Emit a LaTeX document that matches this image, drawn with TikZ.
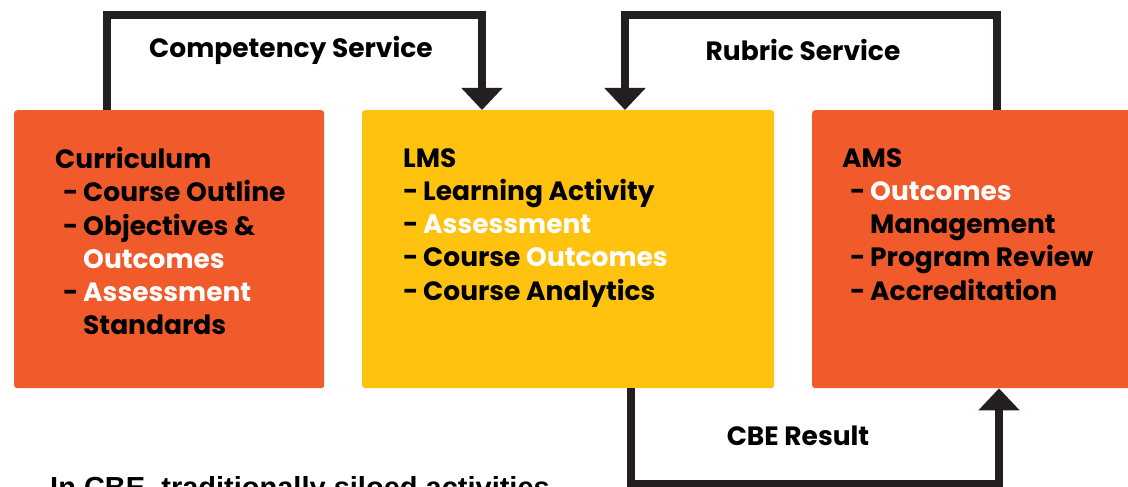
\documentclass[tikz,border=0pt]{standalone}
\usepackage{fontspec}
\setmainfont{Poppins}
\newfontfamily\arialb{Liberation Sans}
\usetikzlibrary{arrows.meta}
\definecolor{orng}{HTML}{F15A2B}
\definecolor{yel}{HTML}{FFC30F}
\definecolor{ink}{HTML}{231F20}
\newcommand\itm[1]{\hspace*{8pt}\makebox[20pt][l]{-}#1}
\newcommand\itmb[1]{\makebox[20pt][l]{-}#1}
\newcommand\cnt[1]{\hspace*{28pt}#1}
\newcommand\wh[1]{\textcolor{white}{#1}}
\begin{document}
\begin{tikzpicture}[x=1pt,y=-1pt,
  box/.style={rectangle, rounded corners=3pt, inner sep=0pt, anchor=north west, minimum height=278pt},
  boxtxt/.style={anchor=north west, inner sep=0pt, align=left, text=black,
    font=\fontsize{26.5}{33.3}\selectfont\bfseries},
  lbl/.style={inner sep=0pt, text=black, font=\fontsize{26.5}{30}\selectfont\bfseries},
  conn/.style={draw=ink, line width=8pt, line join=miter,
    -{Triangle[width=40pt,length=22pt]}}]
\useasboundingbox (0,0) rectangle (1128,487);
\fill[white] (0,0) rectangle (1128,487);
% boxes
\node[box, fill=orng, minimum width=310pt] (cur) at (14,110) {};
\node[box, fill=yel, minimum width=412pt] (lms) at (362,110) {};
\node[box, fill=orng, minimum width=330pt] (ams) at (812,110) {};
% box texts
\node[boxtxt] (curtxt) at (55,147) {Curriculum\\
\itm{Course Outline}\\
\itm{Objectives \&}\\
\cnt{\wh{Outcomes}}\\
\itm{\wh{Assessment}}\\
\cnt{Standards}};
\node[boxtxt] (lmstxt) at (403,148) {LMS\\
\itmb{Learning Activity}\\
\itmb{\wh{Assessment}}\\
\itmb{Course \wh{Outcomes}}\\
\itmb{Course Analytics}};
\node[boxtxt] (amstxt) at (842,148) {AMS\\
\itm{\wh{Outcomes}}\\
\cnt{Management}\\
\itm{Program Review}\\
\itm{Accreditation}};
% connectors
\draw[conn] ([xshift=93pt]cur.north west) -- ++(0,-95) -| ([xshift=120pt]lms.north west);
\draw[conn] ([xshift=185pt]ams.north west) -- ++(0,-95) -| ([xshift=263pt]lms.north west);
\draw[conn] ([xshift=269pt]lms.south west) -- ++(0,96) -| ([xshift=187pt]ams.south west);
% labels
\node[lbl] (lcomp) at (291,50) {Competency Service};
\node[lbl] (lrub) at (803,50) {Rubric Service};
\node[lbl] (lcbe) at (798,436) {CBE Result};
\node[anchor=base west, inner sep=0pt, font=\arialb\fontsize{29}{32}\selectfont\bfseries] (bottom) at (50,497) {In CBE, traditionally siloed activities};
\end{tikzpicture}
\end{document}
